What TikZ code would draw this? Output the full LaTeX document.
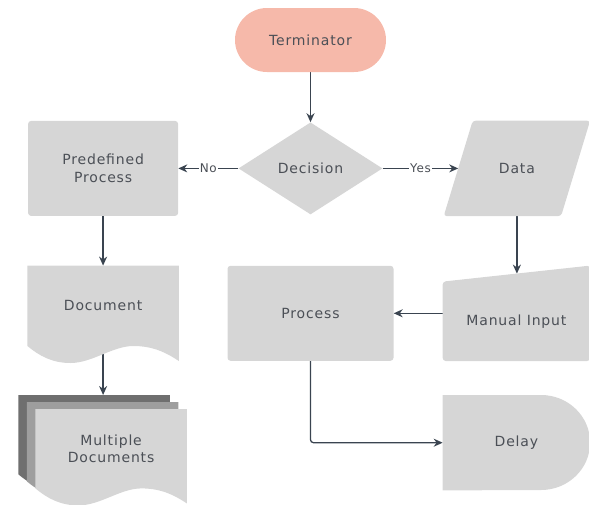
\documentclass[tikz,border=0pt]{standalone}
\usepackage{fontspec}
\setsansfont{DejaVu Sans}[LetterSpace=6]
\usepackage{xcolor}
\usepackage{tikz}
\usetikzlibrary{calc,positioning,shapes.geometric,arrows.meta,backgrounds}
\definecolor{shapeGray}{HTML}{D6D6D6}
\definecolor{termPink}{HTML}{F6B9AA}
\definecolor{lineSlate}{HTML}{3A4450}
\definecolor{textGray}{HTML}{4B4F56}
\definecolor{stackDark}{HTML}{6F6F6F}
\definecolor{stackMid}{HTML}{9E9E9E}
\tikzset{
    termBox/.style={fill=termPink, rounded corners=32pt, minimum width=151pt,
                    minimum height=64pt, inner sep=0pt},
    decBox/.style={diamond, fill=shapeGray, minimum width=144pt,
                   minimum height=92pt, aspect=1.565, inner sep=0pt},
    procBox/.style={fill=shapeGray, rounded corners=3pt, minimum height=95pt,
                    inner sep=0pt, align=center},
    shapeBody/.style={minimum width=151pt, minimum height=95pt, inner sep=0pt,
                      align=center},
    flowArrow/.style={draw=lineSlate, line width=1.3pt,
                      -{Stealth[length=9pt, width=8pt]}},
    arrowLbl/.style={fill=white, inner sep=1pt, text=textGray,
                     font=\sffamily\fontsize{12}{14}\selectfont},
}
% wavy sheet below a body node: #1 node, #2 fill colour
\newcommand{\docSheet}[2]{%
  \fill[#2] (#1.south west) -- (#1.north west) -- (#1.north east)
    -- ($(#1.south east)+(0,15)$)
    .. controls ($(#1.south west)+(135,4)$) and ($(#1.south west)+(122,0)$)
    .. ($(#1.south west)+(106,0)$)
    .. controls ($(#1.south west)+(85,0)$) and ($(#1.south west)+(65,17)$)
    .. ($(#1.south west)+(43,17)$)
    .. controls ($(#1.south west)+(25,17)$) and ($(#1.south west)+(12,10)$)
    .. (#1.south west) -- cycle;}

\begin{document}
\begin{tikzpicture}[
    x=1pt, y=-1pt,
    font=\sffamily\fontsize{14}{17.5}\selectfont,
    text=textGray,
]
\useasboundingbox (0,0) rectangle (589,504);

% =======================  top and left column  =======================
\node[termBox] (term) at (310.5,40) {Terminator};
\node[decBox, below=50pt of term] (dec) {Decision};
\node[procBox, minimum width=150pt, left=60pt of dec] (pre) {Predefined\\Process};
\node[shapeBody, minimum height=80pt, below=49.5pt of pre] (doc) {Document};
\node[shapeBody, minimum height=79pt, below=49pt of doc, xshift=-9pt] (mdocA) {};
\node[shapeBody, minimum height=79pt] (mdocB) at ($(mdocA)+(8.5,7)$) {};
\node[shapeBody, minimum height=79pt] (mdoc) at ($(mdocA)+(17,14)$)
     {Multiple\\Documents};

% =======================  right side  =======================
\node[shapeBody, minimum width=146pt, right=61pt of dec] (data) {Data};
\coordinate (dataEdge) at ($(data.west)+(14.5,0)$);
\node[procBox, minimum width=166pt, below=51pt of dec] (proc) {Process};
\node[shapeBody, minimum width=147pt, right=49pt of proc] (mi) {};
\node (miText) at ($(mi.center)+(0,8)$) {Manual Input};
\node[shapeBody, minimum width=147pt, below=34pt of mi] (delay) {Delay};
\coordinate (miTop) at ($(data.south |- mi.north)+(0,8)$);

\begin{scope}[on background layer]
% connectors first, so the sheets cover their starts
\draw[flowArrow] (term) -- (dec);
\draw[flowArrow] (dec.west) -- node[arrowLbl] {No} (pre.east);
\draw[flowArrow] (dec.east) -- node[arrowLbl] {Yes} (dataEdge);
\draw[flowArrow] (pre) -- (doc);
\draw[flowArrow] (doc.south) -- (doc.south |- mdocA.north);
\draw[flowArrow] (data.south) -- (miTop);
\draw[flowArrow] (mi.west) -- (proc.east);
\draw[flowArrow, rounded corners=3pt] (proc.south) |- (delay.west);

\docSheet{doc}{shapeGray}
\docSheet{mdocA}{stackDark}
\docSheet{mdocB}{stackMid}
\docSheet{mdoc}{shapeGray}
\fill[shapeGray, rounded corners=3pt] (data.south west)
     -- ($(data.north west)+(29,0)$) -- (data.north east)
     -- ($(data.south east)+(-29,0)$) -- cycle;
\fill[shapeGray, rounded corners=3pt] ($(mi.north west)+(0,16)$) -- (mi.north east)
     -- (mi.south east) -- (mi.south west) -- cycle;
\fill[shapeGray] (delay.south west) -- (delay.north west)
     -- ($(delay.north east)+(-49,0)$)
     arc[start angle=90, end angle=-90, x radius=49pt, y radius=47.5pt] -- cycle;
\end{scope}

\end{tikzpicture}
\end{document}
